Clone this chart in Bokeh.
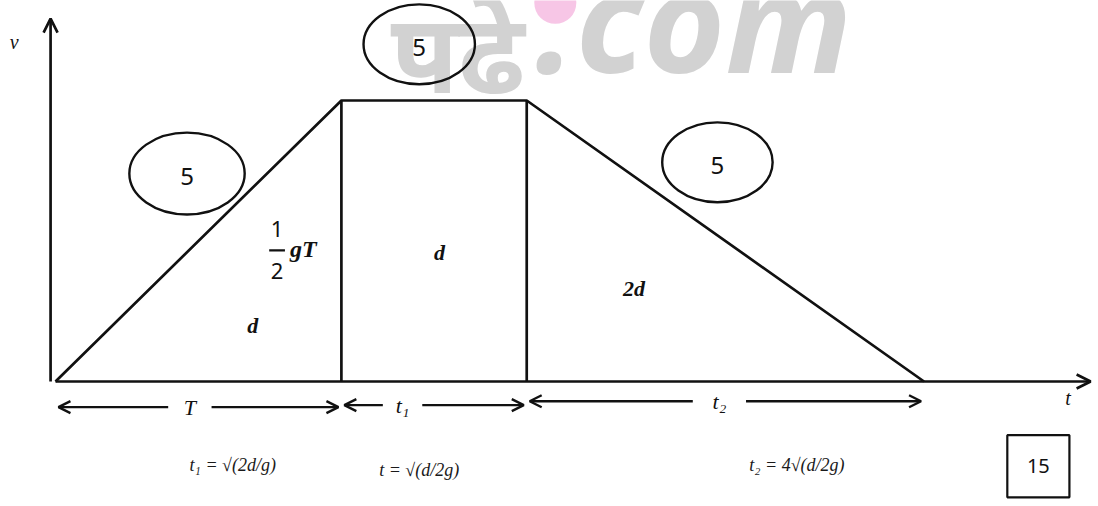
from bokeh.plotting import figure
from bokeh.models import Range1d, Arrow, OpenHead, ColumnDataSource
from bokeh.core.properties import value
from bokeh.embed import file_html
from bokeh.resources import INLINE

# ---- data ----
phase_names = ["T", "t₁", "t₂"]
phase_durations = [2.90, 1.88, 4.03]      # time units
v_max = 2.85                               # velocity units
area_labels = ["d", "d", "2d"]
mark_labels = ["5", "5", "5"]
total_marks = "15"
notes = ["t₁ = √(2d/g)", "t = √(d/2g)", "t₂ = 4√(d/2g)"]
watermark = ["पढे", ".com"]

t_pts = [0.0]
for d in phase_durations:
    t_pts.append(t_pts[-1] + d)
v_pts = [0.0, v_max, v_max, 0.0]
T, t1, t2 = phase_durations
t_end = t_pts[-1]

INK = "#111111"
LW = 2.7
SERIF = value("Liberation Serif")
SANS = value("Noto Sans")

p = figure(width=1098, height=506, output_backend="svg", toolbar_location=None,
           x_range=Range1d(-0.558, 10.58), y_range=Range1d(-1.268, 3.864),
           min_border=0, background_fill_color="white")
p.axis.visible = False
p.grid.visible = False
p.outline_line_color = None

# watermark
p.text(x=[3.40], y=[3.36], text=[watermark[0]], text_font=SANS, text_font_size="110px",
       text_color="#d2d2d2", text_font_style="bold", text_align="left", text_baseline="middle")
p.scatter(x=[5.07], y=[3.84], size=42, color="#f7c6e6", line_color=None)
p.text(x=[4.87], y=[3.68], text=[watermark[1]], text_font=SANS, text_font_size="140px",
       text_color="#d2d2d2", text_font_style="bold italic", text_align="left",
       text_baseline="middle")

# axes with arrows
p.add_layout(Arrow(x_start=-0.05, y_start=0, x_end=-0.05, y_end=3.68, line_width=LW,
                   line_color=INK, end=OpenHead(size=14, line_width=LW, line_color=INK)))
p.add_layout(Arrow(x_start=0, y_start=0, x_end=10.5, y_end=0, line_width=LW,
                   line_color=INK, end=OpenHead(size=14, line_width=LW, line_color=INK)))
p.text(x=[-0.42], y=[3.44], text=["v"], text_font=SERIF, text_font_style="italic",
       text_font_size="20px", text_color=INK, text_align="center", text_baseline="middle")
p.text(x=[10.27], y=[-0.17], text=["t"], text_font=SERIF, text_font_style="italic",
       text_font_size="20px", text_color=INK, text_align="center", text_baseline="middle")

# v-t trapezoid
src = ColumnDataSource(dict(t=t_pts, v=v_pts))
p.line("t", "v", source=src, line_width=LW, line_color=INK)
p.segment(x0=t_pts[1:3], y0=[0, 0], x1=t_pts[1:3], y1=v_pts[1:3], line_width=LW,
          line_color=INK)

# marking ellipses
ell_x = [T * 0.46, T + t1 * 0.42, T + t1 + t2 * 0.48]
ell_y = [v_max * 0.74, v_max * 1.20, v_max * 0.78]
p.ellipse(x=ell_x, y=ell_y, width=[1.17, 1.13, 1.12], height=[0.83, 0.81, 0.81],
          fill_color=None, line_color=INK, line_width=2.4)
p.text(x=ell_x, y=[y - 0.03 for y in ell_y], text=mark_labels, text_font=SANS,
       text_font_size="24px", text_color=INK, text_align="center", text_baseline="middle")

# area labels
p.text(x=[T * 0.69, T + t1 * 0.53, T + t1 + t2 * 0.27], y=[0.57, 1.31, 0.94],
       text=area_labels, text_font=SERIF, text_font_style="bold italic",
       text_font_size="22px", text_color=INK, text_align="center", text_baseline="middle")

# 1/2 gT
fx = T * 0.775
p.text(x=[fx, fx], y=[1.55, 1.12], text=["1", "2"], text_font=SANS, text_font_size="22px",
       text_color=INK, text_align="center", text_baseline="middle")
p.segment(x0=[fx - 0.08], y0=[1.33], x1=[fx + 0.08], y1=[1.33], line_width=2.2, line_color=INK)
p.text(x=[fx + 0.13], y=[1.34], text=["gT"], text_font=SERIF, text_font_style="bold italic",
       text_font_size="24px", text_color=INK, text_align="left", text_baseline="middle")

# dimension arrows under the time axis
dim_y = [-0.26, -0.24, -0.2]
lab_pos = [0.47, 0.33, 0.485]
gap = [0.22, 0.2, 0.27]
for i, (t0, dur) in enumerate(zip(t_pts[:-1], phase_durations)):
    c = t0 + dur * lab_pos[i]
    y = dim_y[i]
    p.add_layout(Arrow(x_start=c - gap[i], y_start=y, x_end=t0 + 0.03, y_end=y, line_width=2.4,
                       line_color=INK, end=OpenHead(size=12, line_width=2.4, line_color=INK)))
    p.add_layout(Arrow(x_start=c + gap[i], y_start=y, x_end=t0 + dur - 0.03, y_end=y,
                       line_width=2.4, line_color=INK,
                       end=OpenHead(size=12, line_width=2.4, line_color=INK)))
    p.text(x=[c], y=[y], text=[phase_names[i]], text_font=SERIF, text_font_style="italic",
           text_font_size="22px", text_color=INK, text_align="center", text_baseline="middle")

# handwritten notes
p.text(x=[T * 0.62, T + t1 * 0.42, T + t1 + t2 * 0.68], y=[-0.85, -0.9, -0.85], text=notes,
       text_font=SERIF, text_font_style="italic", text_font_size="18px", text_color="#1a1a1a",
       text_align="center", text_baseline="middle")

# marks box
p.rect(x=[9.97], y=[-0.86], width=0.63, height=0.63, fill_color=None, line_color=INK,
       line_width=2.2)
p.text(x=[9.97], y=[-0.86], text=[total_marks], text_font=SANS, text_font_size="20px",
       text_color=INK, text_align="center", text_baseline="middle")

open("out.html", "w").write(file_html(p, INLINE))
